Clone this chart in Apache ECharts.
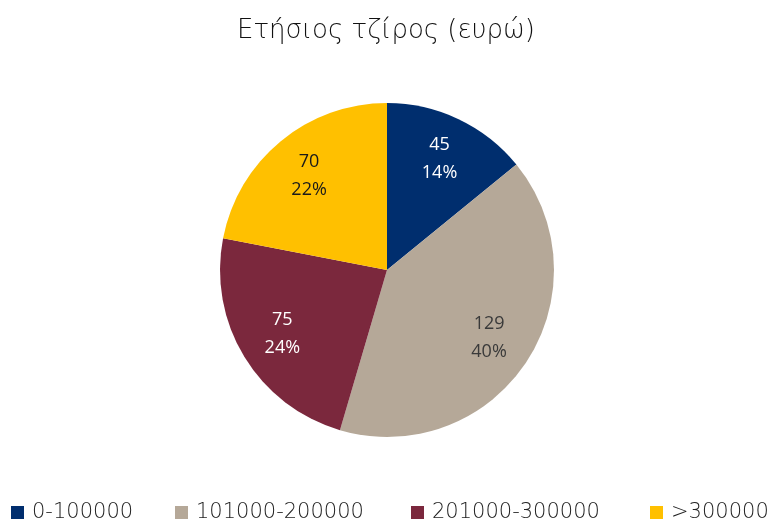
<!DOCTYPE html>
<html>
<head>
<meta charset="utf-8">
<script src="https://cdn.jsdelivr.net/npm/echarts@6/dist/echarts.min.js"></script>
<style>
  html, body { margin: 0; padding: 0; background: #fff; }
  #chart { width: 772px; height: 520px; }
</style>
</head>
<body>
<div id="chart"></div>
<script>
const categories = ['0-100000', '101000-200000', '201000-300000', '>300000'];
const counts = [45, 129, 75, 70];
const colors = ['#002e6e', '#b5a898', '#7b283d', '#ffc000'];
const labelColors = ['#ffffff', '#3a3a3a', '#ffffff', '#1a1a1a'];
const legendLefts = [11, 175, 411, 650];

const total = counts.reduce((a, b) => a + b, 0);
const pieData = counts.map((value, index) => ({
  value,
  name: categories[index],
  itemStyle: { color: colors[index] },
}));
// transparent ring used only to place labels further out than the middle
const labelData = counts.map((value, index) => ({
  value,
  name: categories[index],
  itemStyle: { color: 'rgba(0,0,0,0)' },
  label: { color: labelColors[index] },
}));

// one legend per item so each sits where it does in the picture
const legends = categories.map((name, index) => ({
  data: [name],
  top: 502,
  left: legendLefts[index],
  padding: 0,
  itemWidth: 13,
  itemHeight: 13,
  icon: 'rect',
  textStyle: {
    fontFamily: 'DejaVu Sans',
    fontWeight: 200,
    fontSize: 21,
    color: '#222',
    padding: [0, 0, 0, 3],
  },
}));

const chart = echarts.init(document.getElementById('chart'));
chart.setOption({
  animation: false,
  title: {
    text: 'Ετήσιος τζίρος (ευρώ)',
    left: 'center',
    top: 13,
    textStyle: {
      fontFamily: 'DejaVu Sans',
      fontWeight: 200,
      fontSize: 26,
      color: '#111',
    },
  },
  legend: legends,
  series: [
    {
      type: 'pie',
      center: [387, 270],
      radius: 167,
      startAngle: 90,
      clockwise: true,
      data: pieData,
      label: { show: false },
      labelLine: { show: false },
      silent: true,
    },
    {
      type: 'pie',
      center: [387, 270],
      radius: [72, 167],
      startAngle: 90,
      clockwise: true,
      data: labelData,
      silent: true,
      legendHoverLink: false,
      label: {
        show: true,
        position: 'inside',
        fontFamily: 'Open Sans',
        fontSize: 18,
        lineHeight: 28,
        formatter: (p) => p.value + '\n' + Math.round(p.value / total * 100) + '%',
      },
      labelLine: { show: false },
    },
  ],
});
</script>
</body>
</html>
